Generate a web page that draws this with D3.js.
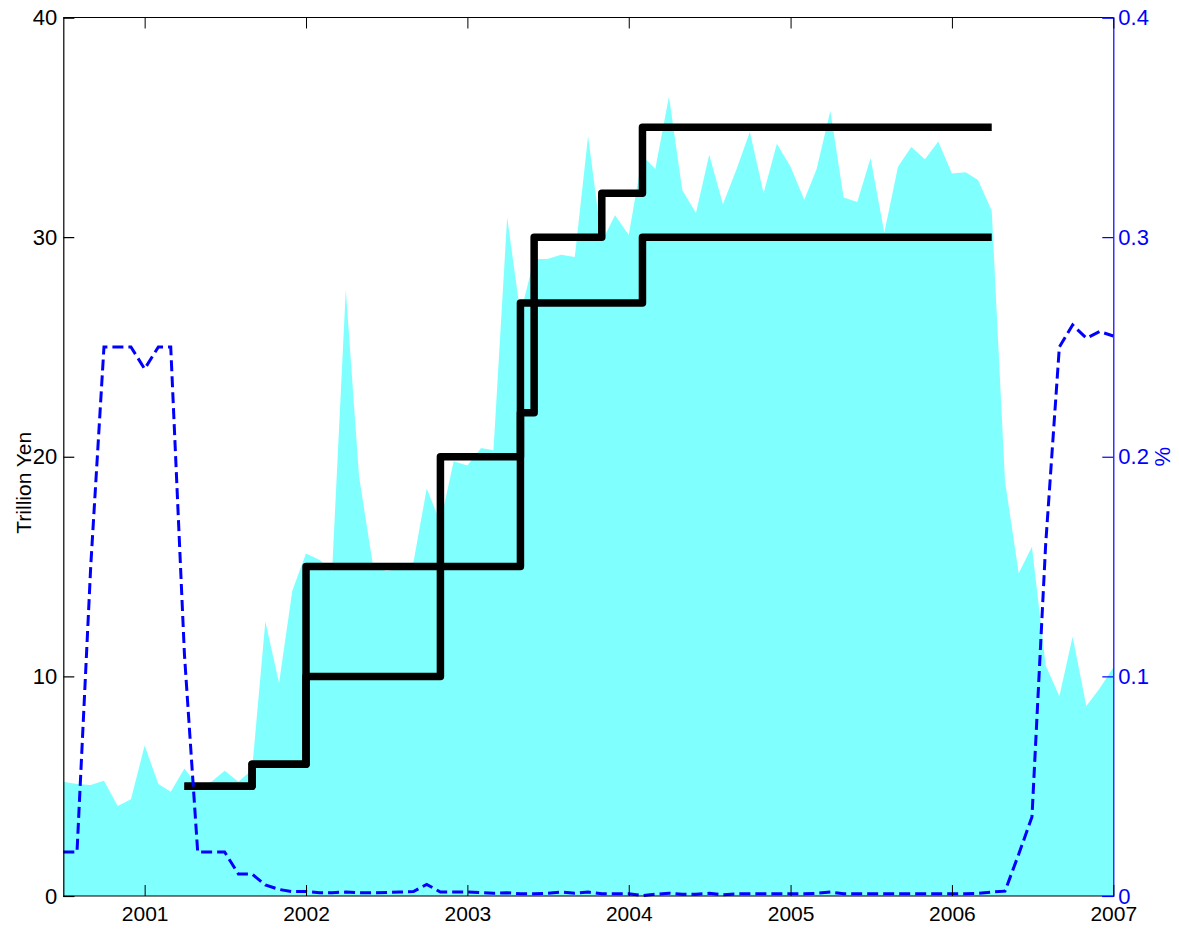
<!DOCTYPE html>
<html>
<head>
<meta charset="utf-8">
<script src="https://cdn.jsdelivr.net/npm/d3@7"></script>
<style>
  html, body { margin: 0; padding: 0; background: #fff; }
  svg { display: block; }
  text { font-family: "Liberation Sans Narrow", "Liberation Sans", Arial, sans-serif; }
</style>
</head>
<body>
<svg id="chart" width="1179" height="929"></svg>
<script>
// ---- data ----
const startMonth = "2000-07";
const endMonth = "2007-01";
// current account balances, trillion yen (monthly, Jul 2000 .. Jan 2007)
const balances = [
  5.2, 5.1, 5.05, 5.25, 4.1, 4.4,
  6.85, 5.1, 4.75, 5.8, 5.0, 5.2, 5.7, 5.2, 5.75, 12.5, 9.7, 13.9,
  15.6, 15.3, 14.8, 27.6, 19.1, 15.1, 14.8, 14.9, 15.2, 18.55, 17.0, 19.8,
  19.6, 20.4, 20.3, 30.9, 26.5, 29.0, 29.0, 29.2, 29.1, 34.6, 29.8, 31.0,
  30.1, 33.7, 33.1, 36.4, 32.15, 31.1, 33.75, 31.5, 33.1, 34.8, 32.0, 34.25,
  33.2, 31.7, 33.1, 35.75, 31.8, 31.6, 33.6, 30.2, 33.2, 34.1, 33.55, 34.35,
  32.9, 32.95, 32.6, 31.2, 18.9, 14.7, 15.9, 10.5, 9.1, 11.8, 8.65, 9.45,
  10.4
];
// overnight call rate, % (monthly, Jul 2000 .. Jan 2007)
const callRate = [
  0.02, 0.02, 0.15, 0.25, 0.25, 0.25,
  0.24, 0.25, 0.25, 0.11, 0.02, 0.02, 0.02, 0.01, 0.01, 0.005, 0.003, 0.002,
  0.002, 0.0015, 0.0015, 0.0018, 0.0015, 0.0015, 0.0016, 0.0018, 0.002, 0.0053, 0.0018, 0.0018,
  0.0018, 0.0015, 0.0012, 0.0015, 0.001, 0.001, 0.0012, 0.0018, 0.0012, 0.0018, 0.001, 0.001,
  0.001, 0.0002, 0.0008, 0.0013, 0.0008, 0.0008, 0.0012, 0.0006, 0.001, 0.001, 0.001, 0.001,
  0.001, 0.001, 0.0012, 0.0018, 0.001, 0.001, 0.001, 0.001, 0.001, 0.001, 0.001, 0.001,
  0.001, 0.001, 0.0012, 0.0018, 0.0022, 0.019, 0.036, 0.16, 0.25, 0.26, 0.254, 0.257,
  0.255
];
// target range for current account balances (step changes)
const upperDates = ["2001-04", "2001-09", "2002-01", "2002-11", "2003-05", "2003-06", "2003-11", "2004-02", "2006-04"];
const upperTarget = [5, 6, 15, 20, 22, 30, 32, 35, 35];
const lowerDates = ["2001-04", "2001-09", "2002-01", "2002-11", "2003-05", "2004-02", "2006-04"];
const lowerTarget = [5, 6, 10, 15, 27, 30, 30];

const leftTicks = [0, 10, 20, 30, 40];
const rightTicks = [0, 0.1, 0.2, 0.3, 0.4];
const yearTicks = ["2001", "2002", "2003", "2004", "2005", "2006", "2007"];
const leftLabel = "Trillion Yen";
const rightLabel = "%";

// ---- layout ----
const parseM = d3.timeParse("%Y-%m");
const parseY = d3.timeParse("%Y");
const L = 63.3, R = 1113.3, T = 17.5, B = 896;

const svg = d3.select("#chart");
const x = d3.scaleTime().domain([parseM(startMonth), parseM(endMonth)]).range([L, R]);
const yL = d3.scaleLinear().domain([0, 40]).range([B, T]);
const yR = d3.scaleLinear().domain([0, 0.4]).range([B, T]);

const months = d3.timeMonth.range(parseM(startMonth), d3.timeMonth.offset(parseM(endMonth), 1));
const balData = months.map((m, i) => ({ d: m, v: balances[i] }));
const rateData = months.map((m, i) => ({ d: m, v: callRate[i] }));

// area
svg.append("path")
  .datum(balData)
  .attr("fill", "#80ffff")
  .attr("d", d3.area().x(d => x(d.d)).y0(yL(0)).y1(d => yL(d.v)));

// step lines
const stepLine = d3.line().x(d => x(d.d)).y(d => yL(d.v)).curve(d3.curveStepAfter);
[[upperDates, upperTarget], [lowerDates, lowerTarget]].forEach(([ds, vs]) => {
  svg.append("path")
    .datum(ds.map((s, i) => ({ d: parseM(s), v: vs[i] })))
    .attr("fill", "none")
    .attr("stroke", "#000")
    .attr("stroke-width", 7.5)
    .attr("stroke-linejoin", "round")
    .attr("stroke-linecap", "butt")
    .attr("d", stepLine);
});

// call rate dashed
svg.append("path")
  .datum(rateData)
  .attr("fill", "none")
  .attr("stroke", "#0000ff")
  .attr("stroke-width", 3)
  .attr("stroke-dasharray", "11,5")
  .attr("d", d3.line().x(d => x(d.d)).y(d => yR(d.v)));

// ---- axes ----
const fs = 22;
// box lines
svg.append("line").attr("x1", L).attr("x2", R).attr("y1", T).attr("y2", T).attr("stroke", "#000").attr("stroke-width", 1);
svg.append("line").attr("x1", L).attr("x2", R).attr("y1", B).attr("y2", B).attr("stroke", "#000").attr("stroke-width", 1.2);

// left axis
const gL = svg.append("g").attr("transform", `translate(${L},0)`)
  .call(d3.axisLeft(yL).tickValues(leftTicks).tickSize(-11).tickPadding(6).tickFormat(d3.format("d")));
gL.selectAll("path, line").attr("stroke", "#000").attr("stroke-width", 1.2);
gL.selectAll("text").attr("font-size", fs).attr("fill", "#000").attr("font-family", null);

// right axis
const gR = svg.append("g").attr("transform", `translate(${R},0)`)
  .call(d3.axisRight(yR).tickValues(rightTicks).tickSize(-11).tickPadding(5).tickFormat(d => d === 0 ? "0" : d3.format(".1f")(d)));
gR.selectAll("path, line").attr("stroke", "#0000ff").attr("stroke-width", 1.2);
gR.selectAll("text").attr("font-size", fs).attr("fill", "#0000ff").attr("font-family", null);

// bottom axis
const gB = svg.append("g").attr("transform", `translate(0,${B})`)
  .call(d3.axisBottom(x).tickValues(yearTicks.map(parseY)).tickSize(-11).tickPadding(10).tickFormat(d3.timeFormat("%Y")));
gB.select("path").remove();
gB.selectAll("line").attr("stroke", "#000").attr("stroke-width", 1);
gB.selectAll("text").attr("font-size", fs - 1).attr("fill", "#000").attr("font-family", null);

// top ticks
const gT = svg.append("g").attr("transform", `translate(0,${T})`)
  .call(d3.axisTop(x).tickValues(yearTicks.map(parseY)).tickSize(-11).tickFormat(""));
gT.select("path").remove();
gT.selectAll("line").attr("stroke", "#000").attr("stroke-width", 1);

// axis labels
svg.append("text")
  .attr("transform", `translate(31,${(T + B) / 2 + 26}) rotate(-90)`)
  .attr("text-anchor", "middle")
  .attr("font-size", fs - 1)
  .attr("fill", "#000")
  .text(leftLabel);
svg.append("text")
  .attr("transform", `translate(1170,${(T + B) / 2}) rotate(-90)`)
  .attr("text-anchor", "middle")
  .attr("font-size", fs)
  .attr("fill", "#0000ff")
  .text(rightLabel);
</script>
</body>
</html>
